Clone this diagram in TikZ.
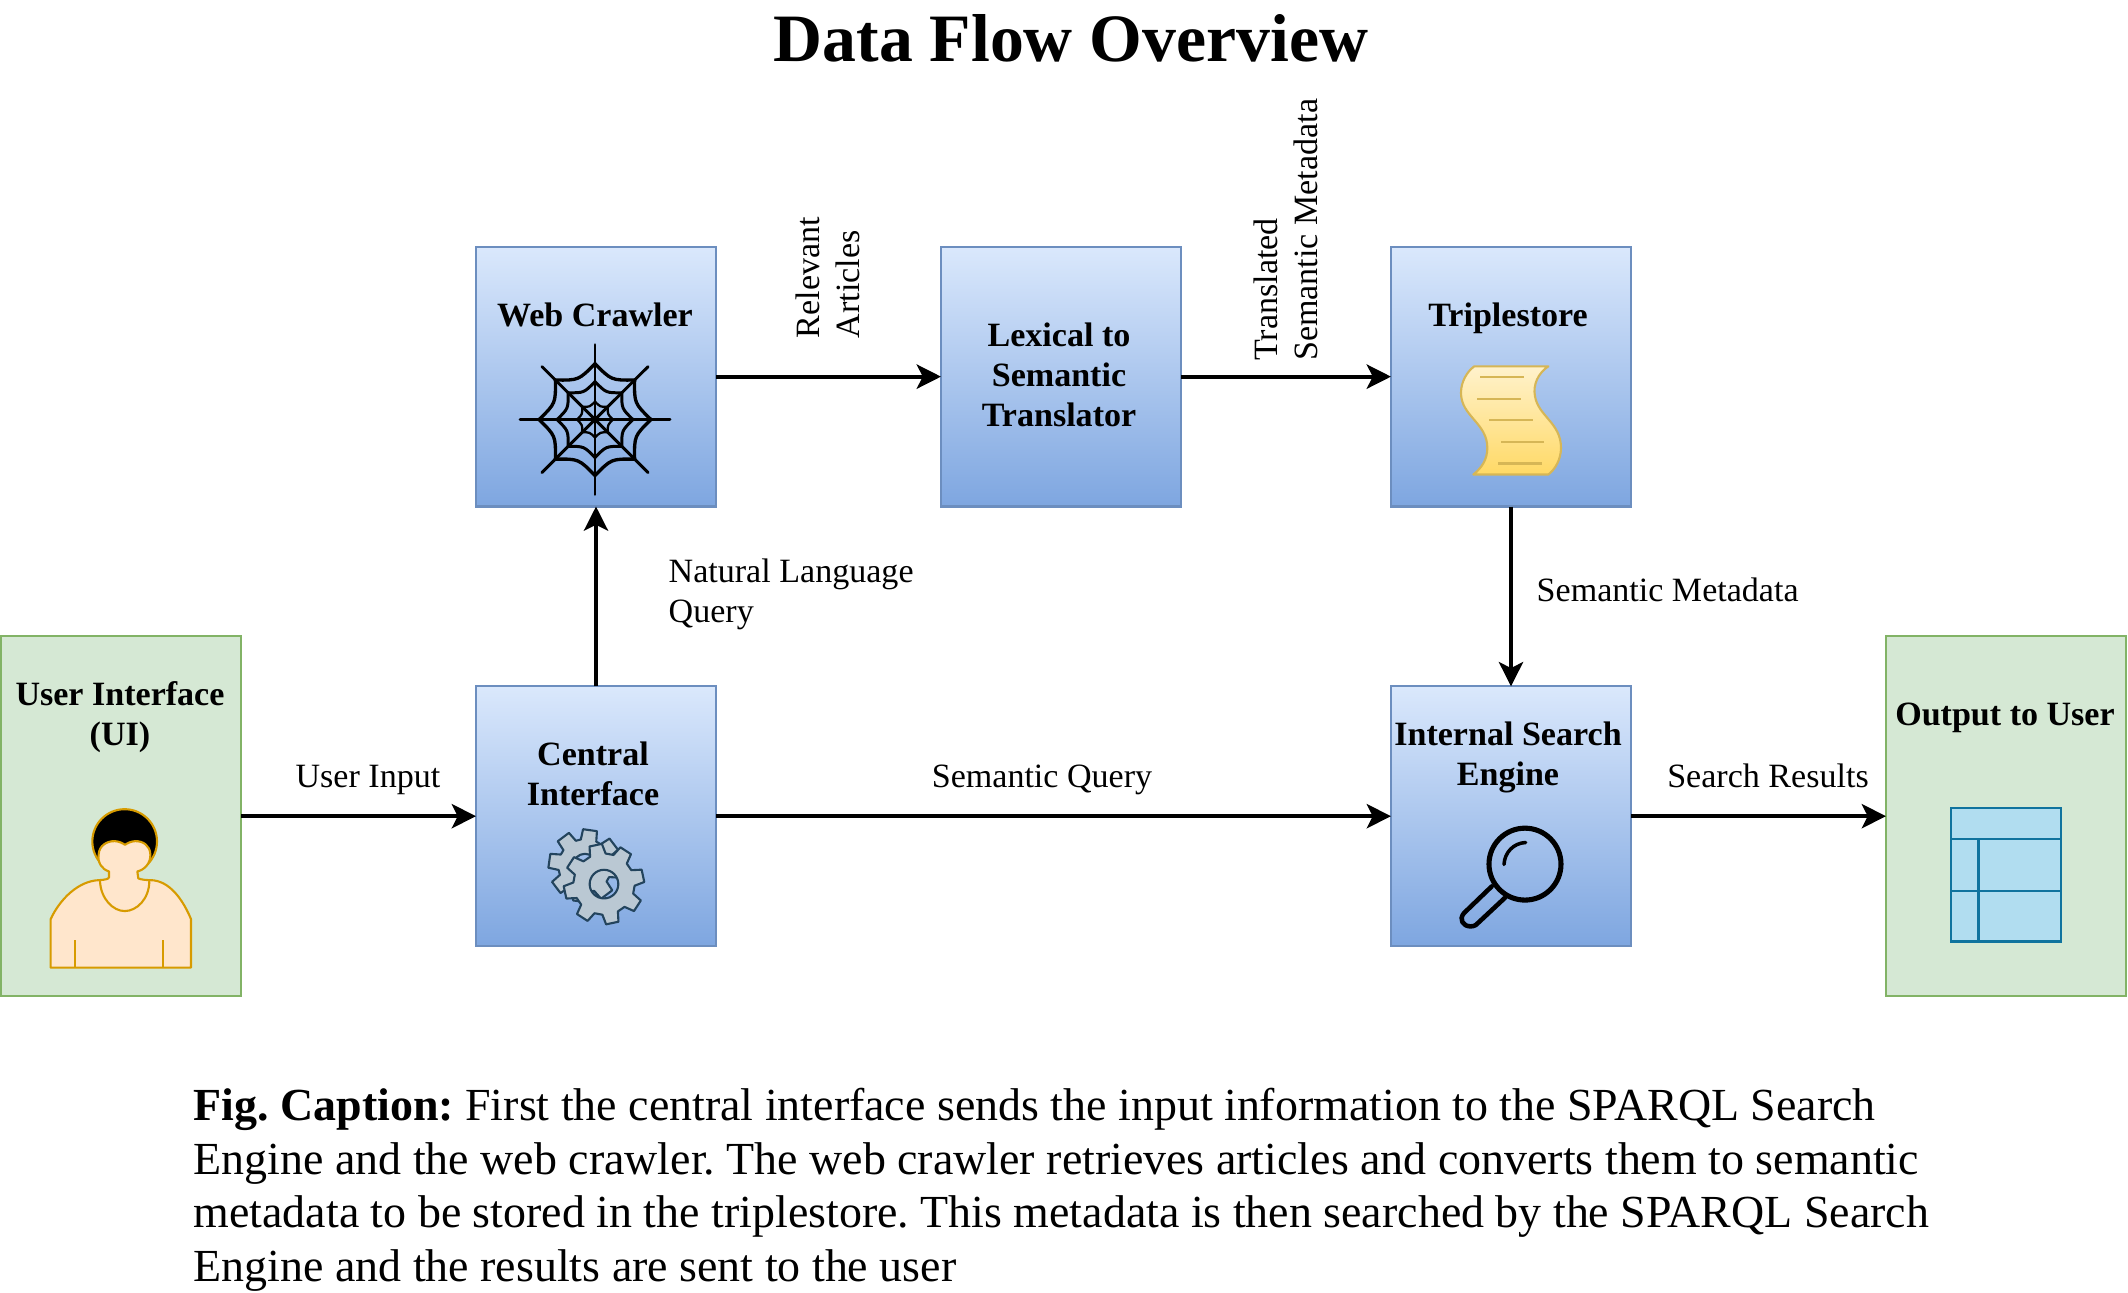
\documentclass[tikz,border=0pt]{standalone}
\usepackage{fontspec}
\setmainfont{Liberation Serif}
\usetikzlibrary{arrows.meta}
\tikzset{
  x=0.28379bp,y=-0.2835bp,
  bluebox/.style={draw=blueedge,line width=0.6pt,top color=bluetop,bottom color=bluebot,minimum width=68.11bp,minimum height=73.71bp,inner sep=0,outer sep=0,shape=rectangle},
  greenbox/.style={draw=greenedge,line width=0.6pt,fill=greenfill,minimum width=68.11bp,minimum height=102.06bp,inner sep=0,outer sep=0,shape=rectangle},
  boxtitle/.style={font=\fontsize{9.7pt}{11.4pt}\selectfont\bfseries,align=center,inner sep=0},
  flowlabel/.style={font=\fontsize{9.7pt}{11.4pt}\selectfont,inner sep=0},
  oneline/.style={text height=6.5pt,text depth=0pt},
  flow/.style={line width=1.08pt,-{Stealth[length=6.9pt,width=6.9pt,inset=1.7pt]}},
}
\definecolor{bluetop}{HTML}{DAE8FC}
\definecolor{bluebot}{HTML}{7EA6E0}
\definecolor{blueedge}{HTML}{6C8EBF}
\definecolor{greenfill}{HTML}{D5E8D4}
\definecolor{greenedge}{HTML}{82B366}
\definecolor{scrollA}{HTML}{FFF2CC}
\definecolor{scrollB}{HTML}{FFD966}
\definecolor{scrollE}{HTML}{D6B656}
\definecolor{skin}{HTML}{FFE6CC}
\definecolor{skinE}{HTML}{D79B00}
\definecolor{gearF}{HTML}{BAC8D3}
\definecolor{gearE}{HTML}{23445D}
\definecolor{tblF}{HTML}{B1DDF0}
\definecolor{tblE}{HTML}{10739E}
\begin{document}
\begin{tikzpicture}
\frenchspacing
\useasboundingbox (0,0) rectangle (2128,1294);
% boxes
\node[greenbox] (ui) at (121,817) {};
\node[bluebox] (central) at (596,817) {};
\node[bluebox] (web) at (596,377) {};
\node[bluebox] (lexical) at (1061,377) {};
\node[bluebox] (triple) at (1511,377) {};
\node[bluebox] (search) at (1511,817) {};
\node[greenbox] (output) at (2006,817) {};
% box titles
\node[boxtitle] (tui) at (120,718) {User Interface\\(UI)};
\node[boxtitle] (tcentral) at (593,775) {Central\\Interface};
\node[boxtitle] (tweb) at (595,315) {Web Crawler};
\node[boxtitle] (tlex) at (1059,375) {Lexical to\\Semantic\\Translator};
\node[boxtitle] (ttriple) at (1508,319) {Triplestore};
\node[boxtitle] (tsearch) at (1508,758) {Internal Search\\Engine};
\node[boxtitle] (toutput) at (2005,719) {Output to User};
% connectors
\draw[flow] (ui) -- (central);
\draw[flow] (central) -- (web);
\draw[flow] (web) -- (lexical);
\draw[flow] (lexical) -- (triple);
\draw[flow] (triple) -- (search);
\draw[flow] (central) -- (search);
\draw[flow] (search) -- (output);
% labels
\node[flowlabel,oneline] (luser) at (368,777) {User Input};
\node[flowlabel,rotate=90,align=left] (lrel) at (828,278) {Relevant\\Articles};
\node[flowlabel,rotate=90,align=left] (ltrans) at (1286,230) {Translated\\Semantic Metadata};
\node[flowlabel,align=left,anchor=west] (lnat) at (668,595) {Natural Language\\Query};
\node[flowlabel,oneline,anchor=west] (lmeta) at (1536,591) {Semantic Metadata};
\node[flowlabel,oneline] (lquery) at (1042,777) {Semantic Query};
\node[flowlabel,oneline] (lres) at (1768,777) {Search Results};
% title and caption
\node[font=\fontsize{19.3pt}{23pt}\selectfont\bfseries,inner sep=0] (title) at (1071,38) {Data Flow Overview};
\node[font=\fontsize{13.08pt}{15.36pt}\selectfont,align=left,anchor=west,inner sep=0] (caption) at (193,1191) {\textbf{Fig. Caption:} First the central interface sends the input information to the SPARQL Search\\Engine and the web crawler. The web crawler retrieves articles and converts them to semantic\\metadata to be stored in the triplestore. This metadata is then searched by the SPARQL Search\\Engine and the results are sent to the user};
% spider web
\begin{scope}[shift={(595,420)},line cap=round,line join=round]
  \foreach \a in {0,45,...,315}{
    \draw[line width=0.85pt] (0,0) -- ({75*cos(\a)},{75*sin(\a)});
    \foreach \r/\w in {56/0.95,38/0.85,18/0.65}{
      \draw[line width=\w pt] ({\r*cos(\a)},{\r*sin(\a)}) .. controls ({0.76*\r*cos(\a+22.5)},{0.76*\r*sin(\a+22.5)}) .. ({\r*cos(\a+45)},{\r*sin(\a+45)});
    }
  }
\end{scope}
% scroll
\begin{scope}[shift={(1380,230)},scale=0.33333]
  \draw[top color=scrollA,bottom color=scrollB,draw=scrollE,line width=0.6pt,line join=round]
    (283,410) -- (505,410) .. controls (475,430) and (458,465) .. (465,500)
    .. controls (475,560) and (543,580) .. (543,655)
    .. controls (543,690) and (525,720) .. (505,735) -- (280,735)
    .. controls (305,715) and (322,690) .. (322,655)
    .. controls (322,580) and (243,560) .. (243,490)
    .. controls (243,455) and (262,425) .. (283,410) -- cycle;
  \draw[draw=scrollE,line width=0.6pt]
    (300,442) -- (432,442) (292,508) -- (423,508) (328,572) -- (458,572) (363,636) -- (493,636) (354,702) -- (485,702);
\end{scope}
% person
\begin{scope}[shift={(0,630)},scale=0.33333,line join=round]
  \fill[black] (374,637) circle (97);
  \draw[skinE,line width=0.6pt] (374,637) circle (97);
  \draw[fill=skin,draw=skinE,line width=0.6pt]
    (152,1016) -- (152,870) .. controls (180,810) and (235,755) .. (298,753)
    .. controls (315,752) and (325,750) .. (327,745) -- (327,727)
    .. controls (305,720) and (292,700) .. (296,675)
    .. controls (298,650) and (320,635) .. (345,636)
    .. controls (358,637) and (368,642) .. (375,647)
    .. controls (382,642) and (392,637) .. (405,636)
    .. controls (430,635) and (450,650) .. (451,675)
    .. controls (453,700) and (435,722) .. (412,727) -- (415,748)
    .. controls (425,752) and (440,753) .. (450,753)
    .. controls (510,753) and (550,815) .. (573,870) -- (573,1016) -- cycle;
  \draw[skinE,line width=0.6pt] (300,755) .. controls (302,810) and (340,846) .. (374,846) .. controls (410,846) and (448,810) .. (448,755);
  \draw[skinE,line width=0.6pt] (224,933) -- (224,1013) (488,933) -- (488,1013);
\end{scope}
% gears
\begin{scope}[shift={(460,680)},scale=0.33333,line join=round]
  \draw[fill=gearF,draw=gearE,line width=0.6pt,even odd rule]
    \foreach \t in {0,...,7}{
      \pgfextra{\pgfmathsetmacro{\a}{\t*45-82}}
      \ifnum\t=0 ({375+80*cos(\a-17)},{560+80*sin(\a-17)}) \else -- ({375+80*cos(\a-17)},{560+80*sin(\a-17)}) \fi
      -- ({375+110*cos(\a-11)},{560+110*sin(\a-11)}) -- ({375+110*cos(\a+11)},{560+110*sin(\a+11)}) -- ({375+80*cos(\a+17)},{560+80*sin(\a+17)})
    } -- cycle (375,560) circle (36);
  \draw[fill=gearF,draw=gearE,line width=0.6pt,even odd rule]
    \foreach \t in {0,...,7}{
      \pgfextra{\pgfmathsetmacro{\a}{\t*45-12}}
      \ifnum\t=0 ({432+92*cos(\a-15)},{615+92*sin(\a-15)}) \else -- ({432+92*cos(\a-15)},{615+92*sin(\a-15)}) \fi
      -- ({432+121*cos(\a-9)},{615+121*sin(\a-9)}) -- ({432+121*cos(\a+9)},{615+121*sin(\a+9)}) -- ({432+92*cos(\a+15)},{615+92*sin(\a+15)})
    } -- cycle (432,615) circle (43);
\end{scope}
% magnifier
\begin{scope}[shift={(1380,680)},scale=0.33333,line cap=round,line join=round]
  \draw[line width=1.45pt] (435,555) circle (108);
  \draw[line width=1.0pt] (372,556) .. controls (374,520) and (400,492) .. (437,490);
  \draw[line width=1.3pt] (335,622) -- (252,702) .. controls (235,722) and (250,742) .. (272,742) .. controls (285,742) and (292,735) .. (298,728) -- (376,655);
\end{scope}
% table
\begin{scope}[shift={(1880,630)},scale=0.33333]
  \draw[fill=tblF,draw=tblE,line width=0.7pt] (213,537) rectangle (543,938);
  \draw[draw=tblE,line width=0.7pt] (213,630) -- (543,630) (213,785) -- (543,785) (295,630) -- (295,938);
\end{scope}
\end{tikzpicture}
\end{document}
